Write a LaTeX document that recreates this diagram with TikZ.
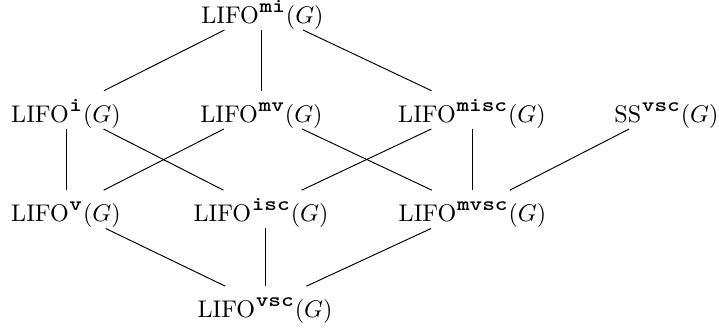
\documentclass[tikz,border=0pt]{standalone}
\usepackage{graphicx}
\newcommand\lab[2]{$\mathrm{#1}$\kern0.3pt\raisebox{4.6pt}{\scalebox{1}[0.82]{\ttfamily\bfseries #2}}\kern0.4pt$(G)$}
\begin{document}
\begin{tikzpicture}[x=0.415pt,y=-0.415pt,
  lat/.style={inner sep=2pt, text height=11pt, text depth=0.5pt, anchor=base},
  edge/.style={draw=black, line width=0.4pt}]
\useasboundingbox (0,0) rectangle (719,332);
\node[lat] (mi)   at (262.5,23.5) {\lab{LIFO}{mi}};
\node[lat] (i)    at (66,122.5)   {\lab{LIFO}{i}};
\node[lat] (mv)   at (261.5,122.5){\lab{LIFO}{mv}};
\node[lat] (misc) at (472,122.5)  {\lab{LIFO}{misc}};
\node[lat] (ss)   at (666.5,122.5){\lab{SS}{vsc}};
\node[lat] (v)    at (66,222)     {\lab{LIFO}{v}};
\node[lat] (isc)  at (261,222)    {\lab{LIFO}{isc}};
\node[lat] (mvsc) at (472.5,222)  {\lab{LIFO}{mvsc}};
\node[lat] (vsc)  at (265,318)    {\lab{LIFO}{vsc}};
\draw[edge] (mi) -- (i);
\draw[edge] (mi.south -| mv) -- (mv);
\draw[edge] (mi) -- (misc);
\draw[edge] (i) -- (v);
\draw[edge] (i) -- (isc);
\draw[edge] (mv) -- (v);
\draw[edge] (mv) -- (mvsc);
\draw[edge] (misc) -- (isc);
\draw[edge] (misc.south -| mvsc) -- (mvsc);
\draw[edge] (ss) -- (mvsc);
\draw[edge] (v) -- (vsc);
\draw[edge] (isc.south -| vsc) -- (vsc);
\draw[edge] (mvsc) -- (vsc);
\end{tikzpicture}
\end{document}
